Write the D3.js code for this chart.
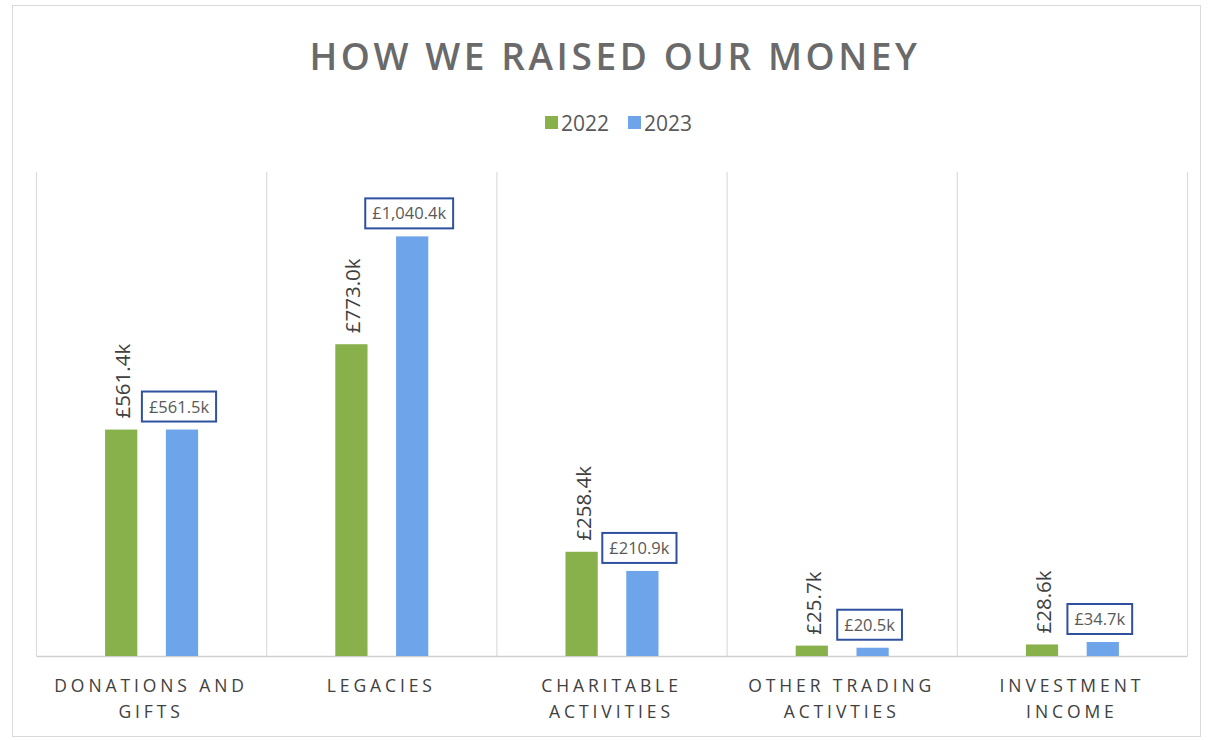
<!DOCTYPE html>
<html>
<head>
<meta charset="utf-8">
<script src="https://cdn.jsdelivr.net/npm/d3@7"></script>
<style>
  html, body { margin: 0; padding: 0; background: #fff; }
  svg { display: block; }
</style>
</head>
<body>
<svg id="chart" width="1209" height="740"></svg>
<script>
const categories = [["DONATIONS AND", "GIFTS"], ["LEGACIES"], ["CHARITABLE", "ACTIVITIES"], ["OTHER TRADING", "ACTIVTIES"], ["INVESTMENT", "INCOME"]];
const categoryKeys = ["Donations and Gifts", "Legacies", "Charitable Activities", "Other Trading Activties", "Investment Income"];
const seriesNames = ["2022", "2023"];
const values2022 = [561.4, 773.0, 258.4, 25.7, 28.6];
const values2023 = [561.5, 1040.4, 210.9, 20.5, 34.7];
const seriesColors = ["#88b04b", "#6ea4ea"];
const yDomain = [0, 1200];

const fmt = v => "£" + d3.format(",.1f")(v) + "k";

const svg = d3.select("#chart");
const plot = { left: 36, right: 1187, top: 172, bottom: 656 };
const font = "'Open Sans', 'Liberation Sans', sans-serif";

// outer border
svg.append("rect").attr("x", 12.5).attr("y", 5.5).attr("width", 1188).attr("height", 731)
  .attr("fill", "#fff").attr("stroke", "#d9d9d9").attr("stroke-width", 1);

const x0 = d3.scaleBand().domain(categoryKeys).range([plot.left, plot.right]).paddingInner(0).paddingOuter(0);
const bw = x0.bandwidth();
const x1 = d3.scaleBand().domain(seriesNames).range([bw / 2 - 46, bw / 2 + 47]).paddingInner(0.47).paddingOuter(0);
const y = d3.scaleLinear().domain(yDomain).range([plot.bottom, plot.top]);

// vertical category separators
const bounds = categoryKeys.map(c => x0(c)).concat([plot.right]);
svg.append("g").selectAll("line").data(bounds).join("line")
  .attr("x1", d => d + 0.5).attr("x2", d => d + 0.5)
  .attr("y1", plot.top).attr("y2", plot.bottom)
  .attr("stroke", "#dcdcdc").attr("stroke-width", 1.2);

// baseline axis
const xAxis = d3.axisBottom(x0).tickSize(0).tickFormat("");
const gx = svg.append("g").attr("transform", `translate(0,${plot.bottom})`).call(xAxis);
gx.select(".domain").attr("stroke", "#d0d0d0").attr("stroke-width", 1.5);

// category labels
const catLabels = svg.append("g").selectAll("text").data(categoryKeys).join("text")
  .attr("x", d => x0(d) + bw / 2)
  .attr("y", 692)
  .attr("text-anchor", "middle")
  .attr("font-family", font)
  .attr("font-size", 17.5)
  .attr("letter-spacing", "3.9px")
  .attr("fill", "#404040");
catLabels.each(function(d, i) {
  const t = d3.select(this);
  categories[i].forEach((line, j) => {
    t.append("tspan").attr("x", x0(d) + bw / 2).attr("dy", j === 0 ? 0 : 26).text(line);
  });
});

const data = categoryKeys.map((c, i) => ({ cat: c, vals: [values2022[i], values2023[i]] }));

const groups = svg.append("g").selectAll("g").data(data).join("g")
  .attr("transform", d => `translate(${x0(d.cat)},0)`);

groups.selectAll("rect").data(d => d.vals.map((v, k) => ({ s: seriesNames[k], v, k }))).join("rect")
  .attr("x", d => x1(d.s))
  .attr("width", x1.bandwidth())
  .attr("y", d => y(d.v))
  .attr("height", d => y(0) - y(d.v))
  .attr("fill", d => seriesColors[d.k]);

// 2022 labels (rotated)
groups.append("text")
  .attr("transform", d => `translate(${x1("2022") + x1.bandwidth() / 2 + 9},${y(d.vals[0]) - 11}) rotate(-90)`)
  .attr("font-family", font)
  .attr("font-size", 20.5)
  .attr("fill", "#404040")
  .attr("text-anchor", "start")
  .text(d => fmt(d.vals[0]));

// 2023 labels (boxed)
groups.each(function(d) {
  const g = d3.select(this);
  const cx = x1("2023") + x1.bandwidth() / 2 - 3;
  const by = y(d.vals[1]) - 8;
  const t = g.append("text")
    .attr("x", cx).attr("y", by - 9)
    .attr("text-anchor", "middle")
    .attr("font-family", font)
    .attr("font-size", 16.5)
    .attr("fill", "#595959")
    .text(fmt(d.vals[1]));
  const tw = t.node().getComputedTextLength();
  g.insert("rect", "text")
    .attr("x", cx - tw / 2 - 7).attr("y", by - 30)
    .attr("width", tw + 14).attr("height", 30)
    .attr("fill", "#fff").attr("stroke", "#2f519e").attr("stroke-width", 2);
});

// title
svg.append("text")
  .attr("x", 615).attr("y", 70)
  .attr("text-anchor", "middle")
  .attr("font-family", font)
  .attr("font-size", 37)
  .attr("font-weight", 600)
  .attr("letter-spacing", "3.6px")
  .attr("fill", "#6a6a6a")
  .text("HOW WE RAISED OUR MONEY");

// legend
const legend = svg.append("g");
const legendX = [545, 628];
seriesNames.forEach((s, k) => {
  legend.append("rect").attr("x", legendX[k]).attr("y", 116).attr("width", 13).attr("height", 13)
    .attr("fill", seriesColors[k]);
  legend.append("text").attr("x", legendX[k] + 16).attr("y", 131)
    .attr("font-family", font).attr("font-size", 21).attr("fill", "#595959").text(s);
});
</script>
</body>
</html>
